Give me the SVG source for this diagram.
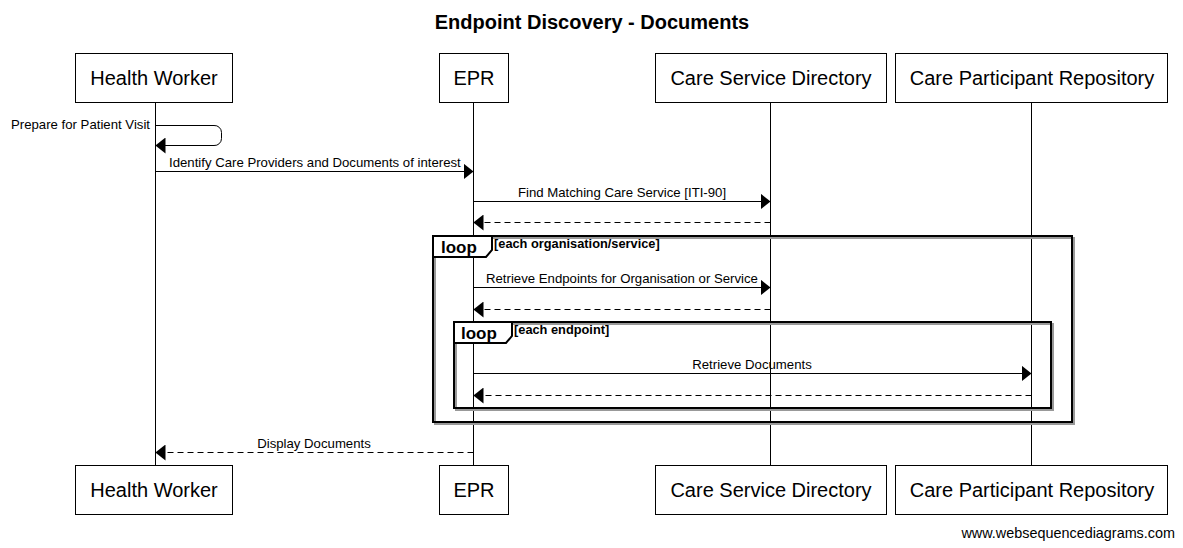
<svg xmlns="http://www.w3.org/2000/svg" width="1183" height="548" viewBox="0 0 1183 548">
<style>
text{font-family:"Liberation Sans",Arial,sans-serif;fill:#000}
.title{font-size:20px;font-weight:bold}
.pbox{fill:#fff;stroke:#000;stroke-width:1}
.pname{font-size:20px;text-anchor:middle}
.life{stroke:#000;stroke-width:1}
.msg{font-size:13.2px}
.mid{text-anchor:middle}
.line{stroke:#000;stroke-width:1;fill:none}
.dash{stroke-dasharray:6,4}
.frame{fill:none;stroke:#000;stroke-width:2}
.shadow{fill:none;stroke:#999;stroke-width:2}
.tab{fill:#fff;stroke:#000;stroke-width:2}
.loopl{font-size:17px;font-weight:bold}
.cond{font-size:12.8px;font-weight:bold}
.wm{font-size:14.4px;text-anchor:end}
</style>
<defs>
<marker id="ah" markerWidth="10" markerHeight="16" refX="10" refY="8" orient="auto" markerUnits="userSpaceOnUse">
<path d="M0,0 L10,8 L0,16 Z" fill="#000"/>
</marker>
</defs>
<rect width="1183" height="548" fill="#fff"/>
<text class="title" x="592" y="29" text-anchor="middle">Endpoint Discovery - Documents</text>

<g id="lifelines">
<line class="life" x1="155.5" y1="102" x2="155.5" y2="465"/>
<line class="life" x1="473.5" y1="102" x2="473.5" y2="465"/>
<line class="life" x1="770.5" y1="102" x2="770.5" y2="465"/>
<line class="life" x1="1031.5" y1="102" x2="1031.5" y2="465"/>
</g>

<g id="frames">
<rect class="shadow" x="435" y="238" width="639" height="186"/>
<rect class="frame" x="433" y="236" width="639" height="186"/>
<path class="tab" d="M433,236 H492 V250 L486,257 H433 Z"/>
<text class="loopl" x="441" y="253">loop</text>
<text class="cond" x="494" y="248">[each organisation/service]</text>
<rect class="shadow" x="456" y="324" width="597" height="86"/>
<rect class="frame" x="454" y="322" width="597" height="86"/>
<path class="tab" d="M454,322 H512 V336 L506,343 H454 Z"/>
<text class="loopl" x="461" y="339">loop</text>
<text class="cond" x="514" y="334">[each endpoint]</text>
</g>

<g id="participant-health-worker">
<rect class="pbox" x="75.5" y="53.5" width="157" height="49"/>
<text class="pname" x="154" y="85">Health Worker</text>
<rect class="pbox" x="75.5" y="465.5" width="157" height="49"/>
<text class="pname" x="154" y="497">Health Worker</text>
</g>
<g id="participant-epr">
<rect class="pbox" x="439.5" y="53.5" width="69" height="49"/>
<text class="pname" x="474" y="85">EPR</text>
<rect class="pbox" x="439.5" y="465.5" width="69" height="49"/>
<text class="pname" x="474" y="497">EPR</text>
</g>
<g id="participant-care-service-directory">
<rect class="pbox" x="655.5" y="53.5" width="231" height="49"/>
<text class="pname" x="771" y="85">Care Service Directory</text>
<rect class="pbox" x="655.5" y="465.5" width="231" height="49"/>
<text class="pname" x="771" y="497">Care Service Directory</text>
</g>
<g id="participant-care-participant-repository">
<rect class="pbox" x="895.5" y="53.5" width="272" height="49"/>
<text class="pname" x="1032" y="85">Care Participant Repository</text>
<rect class="pbox" x="895.5" y="465.5" width="272" height="49"/>
<text class="pname" x="1032" y="497">Care Participant Repository</text>
</g>

<g id="connectors">
<path class="line" d="M155.5,125.5 H214 A7,7 0 0 1 221.5,132.5 V138.5 A7,7 0 0 1 214,145.5 H155.5" marker-end="url(#ah)"/>
<text class="msg" x="150" y="129" text-anchor="end">Prepare for Patient Visit</text>

<line class="line" x1="155.5" y1="171.5" x2="473.5" y2="171.5" marker-end="url(#ah)"/>
<text class="msg" x="169" y="167">Identify Care Providers and Documents of interest</text>

<line class="line" x1="473.5" y1="201.5" x2="770.5" y2="201.5" marker-end="url(#ah)"/>
<text class="msg mid" x="622" y="197">Find Matching Care Service [ITI-90]</text>

<line class="line dash" x1="770.5" y1="222.5" x2="473.5" y2="222.5" marker-end="url(#ah)"/>

<line class="line" x1="473.5" y1="287.5" x2="770.5" y2="287.5" marker-end="url(#ah)"/>
<text class="msg mid" x="622" y="283">Retrieve Endpoints for Organisation or Service</text>

<line class="line dash" x1="770.5" y1="309.5" x2="473.5" y2="309.5" marker-end="url(#ah)"/>

<line class="line" x1="473.5" y1="373.5" x2="1031.5" y2="373.5" marker-end="url(#ah)"/>
<text class="msg mid" x="752" y="369">Retrieve Documents</text>

<line class="line dash" x1="1031.5" y1="395.5" x2="473.5" y2="395.5" marker-end="url(#ah)"/>

<line class="line dash" x1="473.5" y1="452.5" x2="155.5" y2="452.5" marker-end="url(#ah)"/>
<text class="msg mid" x="314" y="448">Display Documents</text>
</g>

<text class="wm" x="1175" y="538">www.websequencediagrams.com</text>
</svg>
